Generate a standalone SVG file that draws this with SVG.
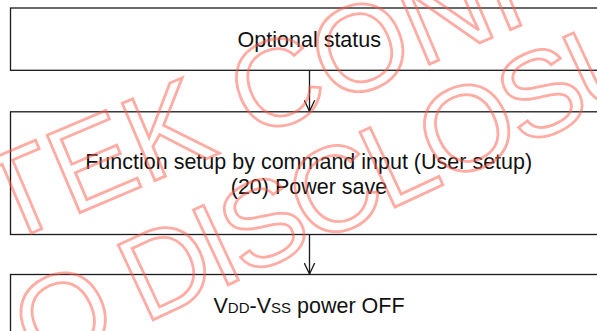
<svg xmlns="http://www.w3.org/2000/svg" width="597" height="331" viewBox="0 0 597 331">
<defs>
<style>
.box{fill:none;stroke:#1a1a1a;stroke-width:1.3}
.lbl{font-family:"Liberation Sans",Arial,Helvetica,sans-serif;font-size:21.5px;fill:#111;text-anchor:middle}
.sm{font-size:15px}
.conn{stroke:#1a1a1a;stroke-width:1.3;fill:none}
.wm{font-family:"Liberation Sans",Arial,Helvetica,sans-serif;fill:none;stroke:#ff5a4a;stroke-opacity:0.5;stroke-width:2.8}
</style>
<marker id="arr" viewBox="0 0 12 12" refX="11" refY="6" markerWidth="12" markerHeight="12" markerUnits="userSpaceOnUse" orient="auto">
<path d="M0,0.8 L11,6 L0,11.2" fill="none" stroke="#1a1a1a" stroke-width="1.3"/>
</marker>
</defs>
<rect width="597" height="331" fill="#fff"/>
<g id="node-optional-status">
<rect class="box" x="10.5" y="8" width="600" height="62.3"/>
<text class="lbl" x="309.3" y="47.3">Optional status</text>
</g>
<g id="node-function-setup">
<rect class="box" x="10.5" y="111.8" width="600" height="122.7"/>
<text class="lbl" x="308.7" y="168.7">Function setup by command input (User setup)</text>
<text class="lbl" x="309" y="193.5">(20) Power save</text>
</g>
<g id="node-power-off">
<rect class="box" x="10.5" y="274.5" width="600" height="100"/>
<text class="lbl" x="309" y="313">V<tspan class="sm">DD</tspan>-V<tspan class="sm">SS</tspan> power OFF</text>
</g>
<g id="connectors">
<line class="conn" x1="309.5" y1="70.3" x2="309.5" y2="111.3" marker-end="url(#arr)"/>
<line class="conn" x1="309.5" y1="234.5" x2="309.5" y2="274" marker-end="url(#arr)"/>
</g>
<g id="watermark">
<text class="wm" font-size="122" transform="translate(2.2,245.5) rotate(-23)">TEK CONF</text>
<text class="wm" font-size="120" letter-spacing="-5" transform="translate(38.6,373.3) rotate(-25)">O DISCLOSU</text>
</g>
</svg>
